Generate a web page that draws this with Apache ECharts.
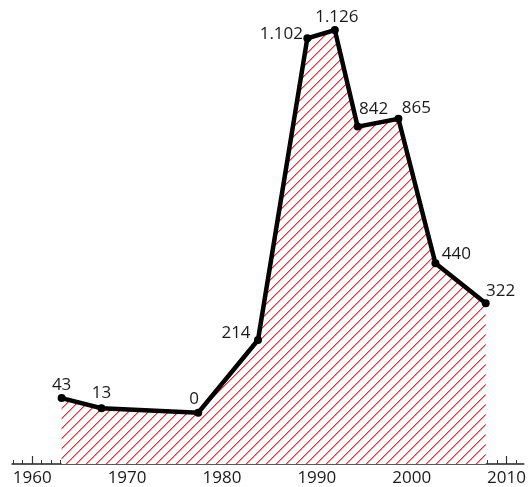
<!DOCTYPE html>
<html>
<head>
<meta charset="utf-8">
<script src="https://cdn.jsdelivr.net/npm/echarts@6/dist/echarts.min.js"></script>
<style>
html,body{margin:0;padding:0;background:#fff;}
#chart{width:529px;height:487px;}
</style>
</head>
<body>
<div id="chart"></div>
<script>
// Data
var years = [1963.1, 1967.3, 1977.5, 1983.8, 1989.0, 1991.9, 1994.3, 1998.6, 2002.5, 2007.8];
var values = [43, 13, 0, 214, 1102, 1126, 842, 865, 440, 322];
var tickYears = [1960, 1970, 1980, 1990, 2000, 2010];
var minorTickYears = [];
for (var y = 1958; y <= 2011; y++) minorTickYears.push(y);

// Label placement (style only)
var labelOffsets = [[0,-13],[0,-15],[-4,-14],[-22,-7],[-26,-4],[2,-13],[16,-17],[18,-11],[21,-9],[15,-12]];

function fmt(v) {
  return String(v).replace(/\B(?=(\d{3})+(?!\d))/g, '.');
}

// hatch pattern (pixel diagonal, seamless)
var pc = document.createElement('canvas');
var S = 10;
pc.width = S; pc.height = S;
var ctx = pc.getContext('2d');
ctx.fillStyle = '#ffffff';
ctx.fillRect(0, 0, S, S);
for (var i = 0; i < S; i++) {
  ctx.fillStyle = '#ee2b33';
  ctx.fillRect(i, S - 1 - i, 1, 1);
  ctx.fillStyle = 'rgba(238,43,51,0.5)';
  ctx.fillRect((i + 1) % S, S - 1 - i, 1, 1);
}

var seriesData = years.map(function (yr, i) {
  return {
    value: [yr, values[i]],
    label: { offset: labelOffsets[i] }
  };
});

var FONT = 'Open Sans';
var chart = echarts.init(document.getElementById('chart'), null, {renderer: 'canvas'});
chart.setOption({
  animation: false,
  backgroundColor: '#ffffff',
  grid: { left: 12, right: 2, top: 20, bottom: 19.5 },
  xAxis: [{
    type: 'value',
    min: 1957.87,
    max: 2011.81,
    axisLine: { show: true, onZero: false, lineStyle: { color: '#222', width: 1.5 } },
    axisTick: { show: true, inside: true, length: 4, customValues: minorTickYears, lineStyle: { color: '#333', width: 1 } },
    axisLabel: { show: true, customValues: tickYears, margin: 6, color: '#1a1a1a', fontSize: 17, fontFamily: FONT, formatter: function (v) { return String(v); } },
    splitLine: { show: false }
  }, {
    type: 'value',
    position: 'bottom',
    min: 1957.87,
    max: 2011.81,
    axisLine: { show: false, onZero: false },
    axisTick: { show: true, inside: true, length: 8, customValues: tickYears, lineStyle: { color: '#333', width: 1.2 } },
    axisLabel: { show: false },
    splitLine: { show: false }
  }],
  yAxis: {
    type: 'value',
    min: -151,
    max: 1155.7,
    show: false,
    splitLine: { show: false }
  },
  series: [{
    type: 'line',
    data: seriesData,
    symbol: 'circle',
    symbolSize: 8,
    showSymbol: true,
    lineStyle: { color: '#000', width: 4.5, join: 'miter' },
    itemStyle: { color: '#000' },
    areaStyle: { origin: 'start', color: { image: pc, repeat: 'repeat' }, opacity: 1 },
    label: {
      show: true,
      position: 'inside',
      color: '#1a1a1a',
      fontSize: 17,
      fontFamily: FONT,
      formatter: function (p) { return fmt(p.value[1]); }
    },
    z: 3
  }]
});
</script>
</body>
</html>
